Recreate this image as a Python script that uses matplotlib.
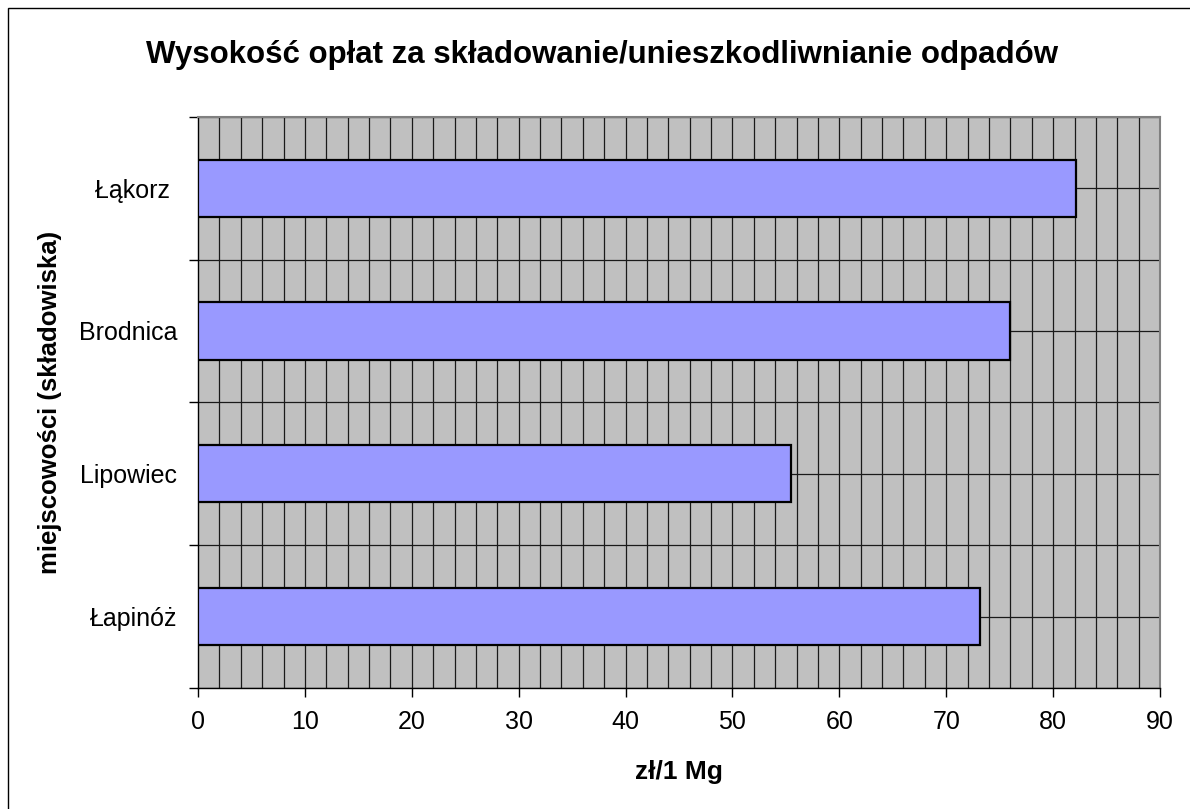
import numpy as np
import matplotlib.pyplot as plt
from matplotlib.patches import Rectangle

# ------------------------------
# Data
# ------------------------------
places = ["Łapinóż", "Lipowiec", "Brodnica", "Łąkorz "]
fees = [73.2, 55.5, 76.0, 82.1]
x_ticks = [0, 10, 20, 30, 40, 50, 60, 70, 80, 90]

title = "Wysokość opłat za składowanie/unieszkodliwnianie odpadów"
x_label = "zł/1 Mg"
y_label = "miejscowości (składowiska)"

plt.rcParams["font.family"] = ["Liberation Sans", "DejaVu Sans"]

fig = plt.figure(figsize=(11.9, 8.09), dpi=100)
ax = fig.add_axes([0.1664, 0.1496, 0.8084, 0.7061])

# outer chart frame (Excel style)
fig.patches.append(Rectangle((8 / 1190, -0.01), 1.1, 1 - 8 / 809 + 0.01,
                             transform=fig.transFigure, fill=False,
                             edgecolor="black", linewidth=1.0))

ax.set_facecolor("#C0C0C0")
pos = np.arange(len(places))

# gridlines: vertical every 2, horizontal at centres and boundaries
for gx in np.arange(2, 90, 2):
    ax.axvline(gx, color="#1a1a1a", linewidth=0.9, zorder=1)
for gy in np.arange(-0.5, len(places), 0.5):
    ax.axhline(gy, color="#1a1a1a", linewidth=0.9, zorder=1)

ax.barh(pos, fees, height=0.4, color="#9999FF", edgecolor="black",
        linewidth=1.6, zorder=3)

ax.set_xlim(0, 90)
ax.set_ylim(-0.5, len(places) - 0.5)

ax.set_xticks(x_ticks)
ax.set_xticklabels([str(t) for t in x_ticks], fontsize=18)
ax.tick_params(axis="x", direction="out", length=6.5, width=1, pad=9)

ax.set_yticks(np.arange(-0.5, len(places), 1.0))
ax.set_yticklabels([])
ax.set_yticks(pos, minor=True)
ax.set_yticklabels(places, minor=True, fontsize=18)
ax.tick_params(axis="y", which="major", direction="out", length=6.5, width=1)
ax.tick_params(axis="y", which="minor", length=0, pad=15)

for side in ("top", "right"):
    ax.spines[side].set_color("#808080")
    ax.spines[side].set_linewidth(1.5)
for side in ("left", "bottom"):
    ax.spines[side].set_color("black")
    ax.spines[side].set_linewidth(1.0)

fig.text(602 / 1190, 1 - 55 / 809, title, ha="center", va="center",
         fontsize=22.5, fontweight="bold")
fig.text(679 / 1190, 1 - 772 / 809, x_label, ha="center", va="center",
         fontsize=19, fontweight="bold")
fig.text(50 / 1190, 1 - 402 / 809, y_label, ha="center", va="center",
         rotation=90, fontsize=18.5, fontweight="bold")

fig.savefig("out.png", dpi=100)
